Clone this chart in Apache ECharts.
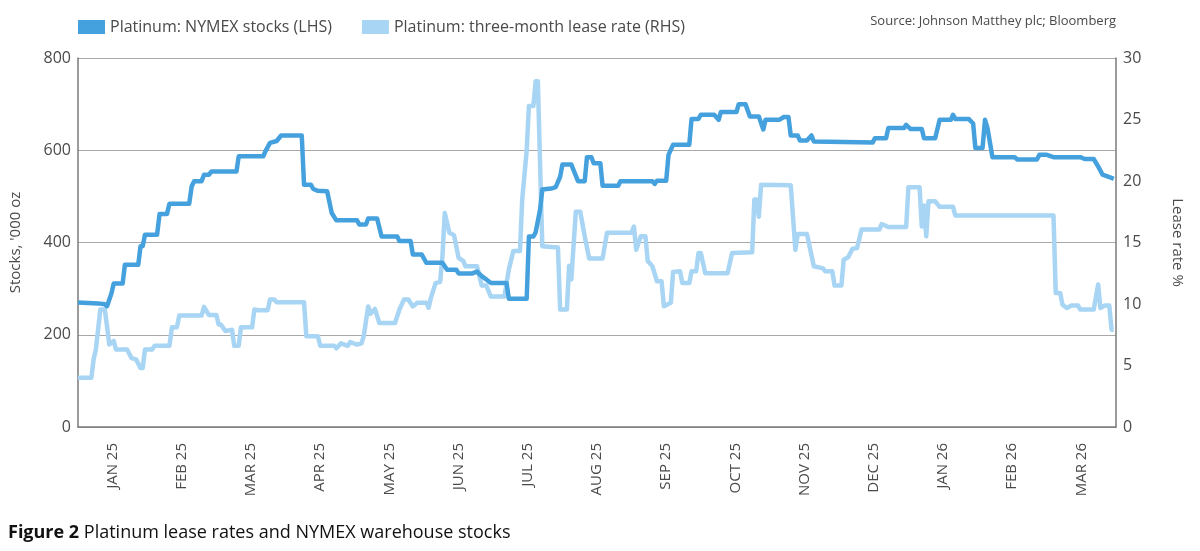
<!DOCTYPE html>
<html>
<head>
<meta charset="utf-8">
<script src="https://cdn.jsdelivr.net/npm/echarts@6/dist/echarts.min.js"></script>
<style>
  html, body { margin: 0; padding: 0; background: #fff; }
  #chart { width: 1200px; height: 551px; }
</style>
</head>
<body>
<div id="chart"></div>
<script>
// month labels along the bottom
var months = ['JAN 25', 'FEB 25', 'MAR 25', 'APR 25', 'MAY 25', 'JUN 25', 'JUL 25', 'AUG 25',
  'SEP 25', 'OCT 25', 'NOV 25', 'DEC 25', 'JAN 26', 'FEB 26', 'MAR 26'];

var stockTicks = [0, 200, 400, 600, 800];
var leaseTicks = [0, 5, 10, 15, 20, 25, 30];

// Platinum: NYMEX stocks ('000 oz)
var stocks = [
  ['2025-01-01', 270], ['2025-01-10', 268], ['2025-01-13', 266], ['2025-01-14', 262], ['2025-01-16', 290],
  ['2025-01-17', 311], ['2025-01-21', 311], ['2025-01-22', 352], ['2025-01-28', 352], ['2025-01-29', 392],
  ['2025-01-30', 392], ['2025-01-31', 417], ['2025-02-05', 417], ['2025-02-06', 462], ['2025-02-09', 462],
  ['2025-02-10', 484], ['2025-02-18', 484], ['2025-02-19', 522], ['2025-02-20', 533], ['2025-02-23', 533],
  ['2025-02-24', 547], ['2025-02-26', 547], ['2025-02-27', 554], ['2025-03-10', 554], ['2025-03-11', 587],
  ['2025-03-22', 587], ['2025-03-23', 598], ['2025-03-25', 616], ['2025-03-28', 620], ['2025-03-30', 632],
  ['2025-04-08', 632], ['2025-04-09', 525], ['2025-04-12', 525], ['2025-04-13', 516], ['2025-04-15', 512],
  ['2025-04-19', 511], ['2025-04-21', 464], ['2025-04-23', 448], ['2025-05-02', 448], ['2025-05-03', 439],
  ['2025-05-06', 439], ['2025-05-07', 452], ['2025-05-11', 452], ['2025-05-13', 413], ['2025-05-20', 413],
  ['2025-05-21', 403], ['2025-05-26', 403], ['2025-05-27', 374], ['2025-05-31', 374], ['2025-06-02', 356],
  ['2025-06-09', 356], ['2025-06-11', 341], ['2025-06-15', 341], ['2025-06-16', 333], ['2025-06-22', 333],
  ['2025-06-24', 337], ['2025-06-26', 327], ['2025-06-28', 320], ['2025-06-30', 312], ['2025-07-07', 312],
  ['2025-07-08', 278], ['2025-07-16', 278], ['2025-07-17', 413], ['2025-07-19', 413], ['2025-07-20', 422],
  ['2025-07-22', 471], ['2025-07-23', 515], ['2025-07-27', 517], ['2025-07-29', 520], ['2025-07-31', 543],
  ['2025-08-01', 569], ['2025-08-05', 569], ['2025-08-08', 533], ['2025-08-11', 533], ['2025-08-12', 585],
  ['2025-08-14', 585], ['2025-08-15', 572], ['2025-08-18', 572], ['2025-08-19', 523], ['2025-08-26', 523],
  ['2025-08-27', 533], ['2025-09-10', 533], ['2025-09-11', 527], ['2025-09-12', 534], ['2025-09-16', 534],
  ['2025-09-17', 590], ['2025-09-19', 612], ['2025-09-26', 612], ['2025-09-27', 668], ['2025-09-30', 668],
  ['2025-10-01', 677], ['2025-10-07', 677], ['2025-10-09', 666], ['2025-10-10', 683], ['2025-10-17', 683],
  ['2025-10-18', 700], ['2025-10-21', 700], ['2025-10-23', 673], ['2025-10-27', 673], ['2025-10-29', 645],
  ['2025-10-30', 666], ['2025-11-05', 666], ['2025-11-07', 672], ['2025-11-09', 672], ['2025-11-10', 632],
  ['2025-11-13', 632], ['2025-11-14', 621], ['2025-11-17', 621], ['2025-11-19', 632], ['2025-11-20', 619],
  ['2025-12-03', 618], ['2025-12-16', 617], ['2025-12-17', 626], ['2025-12-22', 626], ['2025-12-23', 648],
  ['2025-12-30', 648], ['2025-12-31', 655], ['2026-01-02', 646], ['2026-01-07', 646], ['2026-01-08', 626],
  ['2026-01-13', 626], ['2026-01-15', 666], ['2026-01-20', 666], ['2026-01-21', 677], ['2026-01-22', 668],
  ['2026-01-28', 668], ['2026-01-30', 658], ['2026-01-31', 605], ['2026-02-03', 605], ['2026-02-04', 666],
  ['2026-02-05', 648], ['2026-02-07', 585], ['2026-02-16', 585], ['2026-02-17', 580], ['2026-02-25', 580],
  ['2026-02-26', 590], ['2026-03-01', 590], ['2026-03-04', 585], ['2026-03-16', 585], ['2026-03-18', 581],
  ['2026-03-22', 581], ['2026-03-24', 565], ['2026-03-26', 547], ['2026-03-29', 542], ['2026-03-31', 538]
];

// Platinum: three-month lease rate (%)
var lease = [
  ['2025-01-01', 4.0], ['2025-01-07', 4.0], ['2025-01-08', 5.5], ['2025-01-09', 6.3], ['2025-01-11', 9.55],
  ['2025-01-13', 9.55], ['2025-01-14', 8.2], ['2025-01-15', 6.7], ['2025-01-17', 7.0], ['2025-01-18', 6.3],
  ['2025-01-23', 6.3], ['2025-01-25', 5.6], ['2025-01-27', 5.5], ['2025-01-29', 4.8], ['2025-01-30', 4.8],
  ['2025-01-31', 6.3], ['2025-02-03', 6.3], ['2025-02-04', 6.6], ['2025-02-10', 6.6], ['2025-02-11', 8.1],
  ['2025-02-13', 8.1], ['2025-02-14', 9.06], ['2025-02-23', 9.06], ['2025-02-24', 9.77], ['2025-02-26', 9.1],
  ['2025-03-01', 9.1], ['2025-03-02', 8.33], ['2025-03-03', 8.33], ['2025-03-05', 7.8], ['2025-03-08', 7.9],
  ['2025-03-09', 6.6], ['2025-03-11', 6.6], ['2025-03-12', 8.1], ['2025-03-17', 8.1], ['2025-03-18', 9.55],
  ['2025-03-20', 9.5], ['2025-03-24', 9.5], ['2025-03-25', 10.36], ['2025-03-27', 10.36], ['2025-03-28', 10.14],
  ['2025-04-09', 10.14], ['2025-04-10', 7.38], ['2025-04-15', 7.38], ['2025-04-16', 6.6], ['2025-04-22', 6.6],
  ['2025-04-23', 6.4], ['2025-04-25', 6.8], ['2025-04-28', 6.6], ['2025-04-29', 6.9], ['2025-05-02', 6.7],
  ['2025-05-04', 6.8], ['2025-05-05', 7.4], ['2025-05-07', 9.8], ['2025-05-08', 9.2], ['2025-05-10', 9.6],
  ['2025-05-12', 8.45], ['2025-05-19', 8.45], ['2025-05-21', 9.55], ['2025-05-23', 10.36], ['2025-05-25', 10.36],
  ['2025-05-27', 9.8], ['2025-05-29', 10.1], ['2025-06-02', 10.1], ['2025-06-03', 9.7], ['2025-06-04', 10.5],
  ['2025-06-06', 11.7], ['2025-06-08', 11.8], ['2025-06-09', 13.9], ['2025-06-10', 17.4], ['2025-06-12', 15.8],
  ['2025-06-14', 15.6], ['2025-06-16', 13.75], ['2025-06-18', 13.5], ['2025-06-19', 13.07], ['2025-06-24', 13.07],
  ['2025-06-26', 11.5], ['2025-06-28', 11.5], ['2025-06-30', 10.6], ['2025-07-06', 10.6], ['2025-07-07', 11.7],
  ['2025-07-08', 12.8], ['2025-07-10', 14.3], ['2025-07-13', 14.3], ['2025-07-14', 18.5], ['2025-07-16', 22.5],
  ['2025-07-17', 26.1], ['2025-07-19', 26.1], ['2025-07-20', 28.1], ['2025-07-21', 28.1], ['2025-07-23', 14.7],
  ['2025-07-30', 14.6], ['2025-07-31', 9.55], ['2025-08-03', 9.55], ['2025-08-04', 13.1], ['2025-08-05', 12.0],
  ['2025-08-07', 17.5], ['2025-08-09', 17.5], ['2025-08-11', 15.5], ['2025-08-13', 13.7], ['2025-08-19', 13.7],
  ['2025-08-21', 15.8], ['2025-09-01', 15.8], ['2025-09-02', 16.3], ['2025-09-03', 14.4], ['2025-09-05', 15.5],
  ['2025-09-07', 15.5], ['2025-09-08', 13.5], ['2025-09-10', 13.07], ['2025-09-12', 11.85], ['2025-09-14', 11.85],
  ['2025-09-15', 9.82], ['2025-09-18', 10.1], ['2025-09-19', 12.6], ['2025-09-22', 12.66], ['2025-09-23', 11.7],
  ['2025-09-26', 11.7], ['2025-09-27', 12.66], ['2025-09-29', 12.66], ['2025-09-30', 14.15], ['2025-10-01', 14.15],
  ['2025-10-03', 12.5], ['2025-10-13', 12.5], ['2025-10-15', 14.15], ['2025-10-24', 14.2], ['2025-10-25', 18.5],
  ['2025-10-26', 18.5], ['2025-10-27', 17.1], ['2025-10-28', 19.7], ['2025-11-10', 19.65], ['2025-11-12', 14.4],
  ['2025-11-13', 15.7], ['2025-11-17', 15.7], ['2025-11-20', 13.07], ['2025-11-24', 12.9], ['2025-11-25', 12.66],
  ['2025-11-28', 12.66], ['2025-11-29', 11.5], ['2025-12-02', 11.5], ['2025-12-03', 13.6], ['2025-12-05', 13.8],
  ['2025-12-07', 14.5], ['2025-12-09', 14.55], ['2025-12-11', 16.05], ['2025-12-19', 16.05], ['2025-12-20', 16.5],
  ['2025-12-23', 16.26], ['2025-12-31', 16.26], ['2026-01-01', 19.5], ['2026-01-06', 19.5], ['2026-01-07', 16.3],
  ['2026-01-08', 18.0], ['2026-01-09', 15.5], ['2026-01-10', 18.35], ['2026-01-13', 18.35], ['2026-01-15', 17.9],
  ['2026-01-21', 17.9], ['2026-01-22', 17.2], ['2026-03-04', 17.2], ['2026-03-05', 10.9], ['2026-03-07', 10.9],
  ['2026-03-08', 9.95], ['2026-03-10', 9.68], ['2026-03-12', 9.87], ['2026-03-15', 9.87], ['2026-03-16', 9.55],
  ['2026-03-22', 9.55], ['2026-03-24', 11.58], ['2026-03-25', 9.68], ['2026-03-27', 9.87], ['2026-03-29', 9.87],
  ['2026-03-30', 7.9], ['2026-03-31', 7.9]
];

(function () {
  var myChart = echarts.init(document.getElementById('chart'));

  // months are drawn as equal-width bands, so turn a date into a month position
  function monthPos(d) {
    var p = d.split('-');
    var y = +p[0], m = +p[1], day = +p[2];
    var days = new Date(y, m, 0).getDate();
    return (y - 2025) * 12 + (m - 1) + (day - 1) / days;
  }
  function toPoints(list) {
    return list.map(function (r) { return [monthPos(r[0]), r[1]]; });
  }

  var darkBlue = '#45a1dd';
  var lightBlue = '#a8d5f3';
  var txt = '#4a4a4a';
  var font = 'Open Sans';

  var option = {
    animation: false,
    textStyle: { fontFamily: font },
    legend: {
      left: 73,
      top: 14,
      itemWidth: 27,
      itemHeight: 14,
      itemGap: 30,
      icon: 'rect',
      textStyle: { fontSize: 16, color: txt, fontFamily: font },
      data: ['Platinum: NYMEX stocks (LHS)', 'Platinum: three-month lease rate (RHS)']
    },
    graphic: [
      {
        type: 'text', right: 84, top: 15,
        style: { text: 'Source: Johnson Matthey plc; Bloomberg', fill: txt, font: '13px "Open Sans"' }
      },
      {
        type: 'text', left: 8, top: 524,
        style: {
          text: '{b|Figure 2} Platinum lease rates and NYMEX warehouse stocks',
          rich: {
            b: { fontWeight: 'bold', fontSize: 18, fontFamily: font, fill: '#111' }
          },
          fontSize: 18, fontFamily: font, fill: '#111'
        }
      }
    ],
    grid: { left: 78, right: 84, top: 58, bottom: 124 },
    xAxis: [
      { type: 'value', min: 0, max: 15, show: false },
      {
        type: 'category',
        data: months,
        boundaryGap: true,
        position: 'bottom',
        axisLine: { lineStyle: { color: '#7a7a7a', width: 1.5 } },
        axisTick: { inside: true, length: 6, lineStyle: { color: '#8a8a8a' } },
        axisLabel: { rotate: 90, margin: 16, fontSize: 15, color: txt, fontFamily: font }
      }
    ],
    yAxis: [
      {
        type: 'value', min: 0, max: 800, interval: 200,
        name: "Stocks, '000 oz", nameLocation: 'middle', nameGap: 55, nameRotate: 90,
        nameTextStyle: { fontSize: 15, color: txt, fontFamily: font },
        axisLine: { show: true, lineStyle: { color: '#7a7a7a', width: 1.5 } },
        axisTick: { show: false },
        axisLabel: { fontSize: 16, color: txt, margin: 7, fontFamily: font,
          formatter: function (v) { return stockTicks.indexOf(v) >= 0 ? v : ''; } },
        splitLine: { lineStyle: { color: '#a8a8a8', width: 1.2 } }
      },
      {
        type: 'value', min: 0, max: 30, interval: 5, position: 'right',
        name: 'Lease rate %', nameLocation: 'middle', nameGap: 54, nameRotate: -90,
        nameTextStyle: { fontSize: 15, color: txt, fontFamily: font },
        axisLine: { show: true, lineStyle: { color: '#7a7a7a', width: 1.5 } },
        axisTick: { show: false },
        axisLabel: { fontSize: 16, color: txt, margin: 7, fontFamily: font,
          formatter: function (v) { return leaseTicks.indexOf(v) >= 0 ? v : ''; } },
        splitLine: { show: false }
      }
    ],
    series: [
      {
        name: 'Platinum: three-month lease rate (RHS)',
        type: 'line',
        xAxisIndex: 0, yAxisIndex: 1,
        showSymbol: false, symbol: 'none',
        color: lightBlue,
        lineStyle: { width: 4.5, color: lightBlue, join: 'round' },
        z: 2,
        data: toPoints(lease)
      },
      {
        name: 'Platinum: NYMEX stocks (LHS)',
        type: 'line',
        xAxisIndex: 0, yAxisIndex: 0,
        showSymbol: false, symbol: 'none',
        color: darkBlue,
        lineStyle: { width: 4.5, color: darkBlue, join: 'round' },
        z: 3,
        data: toPoints(stocks)
      }
    ]
  };

  if (option && typeof option === 'object') {
    myChart.setOption(option);
  }
  window.addEventListener('resize', myChart.resize);
})();
</script>
</body>
</html>
